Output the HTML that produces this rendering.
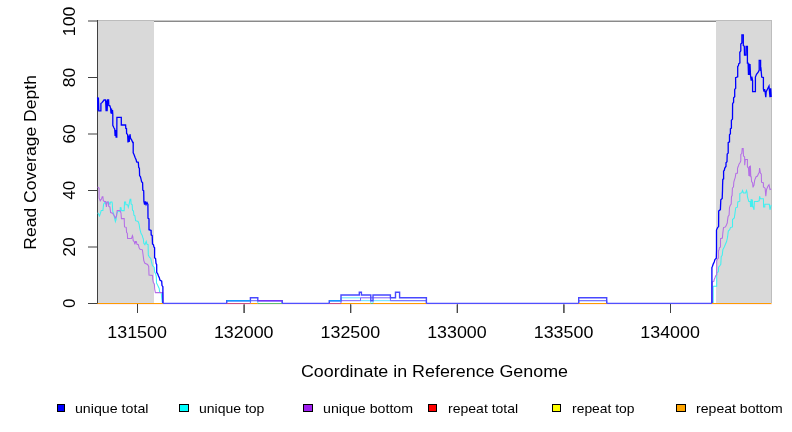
<!DOCTYPE html><html><head><meta charset="utf-8"><style>html,body{margin:0;padding:0;background:#fff;width:792px;height:432px;overflow:hidden}svg{display:block;will-change:transform}text{font-family:"Liberation Sans",sans-serif;fill:#000}</style></head><body>
<svg width="792" height="432" viewBox="0 0 792 432">
<rect x="0" y="0" width="792" height="432" fill="#fff"/>
<rect x="97" y="20" width="675" height="1" fill="#c8c8c8"/>
<rect x="97" y="21" width="675" height="1" fill="#8a8a8a"/>
<rect x="98" y="21" width="56" height="282" fill="#d9d9d9"/>
<rect x="716" y="21" width="55" height="282" fill="#d9d9d9"/>
<rect x="771" y="20" width="1" height="283" fill="#bdbdbd"/>
<rect x="98" y="20" width="56" height="1" fill="#bcbcbc"/>
<rect x="716" y="20" width="56" height="1" fill="#bcbcbc"/>
<rect x="97" y="20" width="1" height="284" fill="#404040"/>
<rect x="88" y="303.00" width="9" height="1" fill="#404040"/>
<rect x="88" y="246.50" width="9" height="1" fill="#404040"/>
<rect x="88" y="190.00" width="9" height="1" fill="#404040"/>
<rect x="88" y="133.50" width="9" height="1" fill="#404040"/>
<rect x="88" y="77.00" width="9" height="1" fill="#404040"/>
<rect x="88" y="20.50" width="9" height="1" fill="#404040"/>
<rect x="137.0" y="304" width="1" height="9" fill="#404040"/>
<rect x="243.6" y="304" width="1" height="9" fill="#404040"/>
<rect x="350.2" y="304" width="1" height="9" fill="#404040"/>
<rect x="456.8" y="304" width="1" height="9" fill="#404040"/>
<rect x="563.4" y="304" width="1" height="9" fill="#404040"/>
<rect x="670.0" y="304" width="1" height="9" fill="#404040"/>
<polyline points="97.6,213.0 98.1,213.2 99.5,216.0 100.5,213.2 101.2,210.4 102.9,210.4 103.6,204.2 105.0,202.1 106.1,204.3 107.8,201.9 108.8,202.2 109.9,204.3 110.6,201.9 112.0,201.9 112.3,203.5 112.7,211.1 113.7,213.9 114.4,217.4 115.4,221.5 116.1,219.4 116.8,213.9 117.9,211.1 120.0,211.8 120.3,207.5 121.0,207.6 121.4,210.6 124.2,210.6 124.5,201.9 125.6,201.9 125.9,204.7 127.6,204.7 128.3,207.2 129.0,204.7 130.1,199.2 130.8,199.2 131.1,204.0 132.2,204.7 132.5,210.3 133.5,211.0 133.9,215.1 134.9,215.8 135.6,220.7 138.1,221.4 139.1,224.2 139.8,229.0 140.8,232.5 141.4,234.2 142.2,235.3 142.8,237.6 143.3,238.8 143.8,243.2 144.9,244.6 146.2,241.5 146.9,244.2 148.1,244.7 148.3,255.0 149.4,257.1 150.8,258.5 151.5,261.9 152.5,265.8 154.2,267.2 154.7,272.4 155.6,273.8 156.3,276.5 156.5,282.9 157.8,285.6 159.2,288.4 159.6,291.9 161.3,292.9 161.7,298.1 162.4,303.5" fill="none" stroke="#40f0f0" stroke-width="1.05" stroke-linejoin="miter"/>
<polyline points="713.2,303.5 713.2,286.3 716.7,286.3 716.8,272.8 718.4,271.7 718.6,267.2 719.8,265.8 720.8,264.4 721.2,256.8 722.2,255.4 722.9,249.5 724.3,247.0 725.4,244.3 726.6,241.5 727.4,238.0 727.6,236.7 728.3,231.1 729.7,229.7 730.4,227.6 732.5,226.9 732.5,219.5 734.3,217.9 735.0,213.1 735.7,207.8 737.4,207.2 737.8,201.9 739.8,201.2 739.8,193.6 741.8,192.6 742.5,190.5 743.5,193.0 745.6,193.0 746.5,190.4 747.0,192.2 747.5,197.0 748.8,201.4 750.2,201.4 750.6,207.0 751.2,199.0 751.8,207.0 752.4,199.5 752.8,207.0 753.3,207.0 754.0,209.8 754.4,201.4 757.5,201.4 759.2,200.8 759.6,196.2 760.3,198.7 763.4,198.7 763.6,207.0 764.8,207.0 764.8,204.2 769.3,204.2 770.0,209.8 771.2,204.9" fill="none" stroke="#40f0f0" stroke-width="1.05" stroke-linejoin="miter"/>
<polyline points="97.6,187.0 98.1,187.3 99.1,188.3 99.1,198.0 100.2,200.8 101.6,198.8 102.2,196.7 102.9,196.7 103.3,200.8 104.3,201.5 105.7,201.5 106.4,206.9 107.1,202.0 108.2,202.0 108.8,206.4 109.9,206.9 110.6,212.5 112.7,213.2 113.4,214.6 114.4,216.0 115.4,218.0 116.5,216.0 117.2,210.4 120.0,210.4 121.0,213.0 121.4,218.6 124.2,218.6 124.5,226.9 126.2,227.3 126.6,232.5 127.3,233.2 127.6,238.4 131.5,238.4 132.4,235.6 132.8,236.7 133.2,240.8 134.2,241.5 134.9,244.3 135.5,241.5 136.3,241.5 137.0,244.3 138.4,244.7 139.1,247.8 140.1,249.2 142.4,249.8 143.1,255.0 143.8,260.6 144.9,263.3 147.6,264.4 148.7,266.5 149.0,275.1 152.5,275.5 152.8,280.0 153.3,282.2 154.4,284.2 154.7,289.1 155.4,292.6 162.7,292.6 163.2,303.5" fill="none" stroke="#b46ee6" stroke-width="1.05" stroke-linejoin="miter"/>
<polyline points="712.2,303.5 712.2,282.1 713.9,281.1 714.2,279.4 714.9,278.0 715.6,275.9 716.7,274.5 716.7,260.9 717.4,259.2 718.4,258.1 718.4,250.8 719.1,249.8 719.4,247.7 720.5,247.0 720.5,238.7 722.4,238.0 722.8,233.2 723.5,227.6 725.5,226.9 726.2,225.6 727.3,222.8 727.4,221.4 728.1,216.5 729.1,215.1 729.5,207.5 730.2,205.4 731.2,204.0 731.5,196.4 732.1,195.7 732.4,188.1 733.5,186.7 733.8,182.2 734.5,179.7 735.2,177.6 735.9,173.5 737.5,173.0 737.5,168.4 738.3,166.3 739.0,164.2 740.1,162.5 740.8,160.8 740.8,154.5 741.8,153.5 742.2,148.6 743.2,148.6 743.5,155.9 744.6,156.9 744.7,165.3 745.3,159.4 747.4,159.4 747.4,166.9 748.5,168.3 748.9,176.0 749.4,166.0 749.9,176.5 750.4,165.5 750.8,176.7 751.2,176.7 751.6,181.5 752.6,182.9 753.0,187.4 754.0,185.0 754.7,180.1 756.1,176.7 757.5,176.0 758.5,173.5 759.2,172.5 759.6,168.0 760.4,173.2 761.3,173.9 761.5,182.2 763.4,182.9 763.4,186.9 765.1,188.2 765.8,196.2 766.5,189.6 767.9,186.2 769.0,184.8 770.0,189.6 771.2,189.0" fill="none" stroke="#b46ee6" stroke-width="1.05" stroke-linejoin="miter"/>
<polyline points="163.0,303.5 226.7,303.5 226.7,300.7 257.8,300.7 257.8,303.5 329.3,303.5 329.3,300.7 341.0,300.7 341.0,297.8 360.5,297.8 360.5,300.7 370.8,300.7 370.8,303.5 373.0,303.5 373.0,300.7 426.4,300.7 426.4,303.5 578.7,303.5 578.7,300.7 606.7,300.7 606.7,303.5 713.2,303.5" fill="none" stroke="#60e0ff" stroke-width="1.0" stroke-linejoin="miter"/>
<polyline points="163.0,303.5 250.4,303.5 250.4,300.7 282.2,300.7 282.2,303.5 341.0,303.5 341.0,300.7 360.5,300.7 360.5,297.8 390.4,297.8 390.4,300.7 426.4,300.7 426.4,303.5 578.7,303.5 578.7,300.7 606.7,300.7 606.7,303.5 712.2,303.5" fill="none" stroke="#7a5cff" stroke-width="1.0" stroke-linejoin="miter"/>
<polyline points="97.6,97.2 97.9,110.5 98.4,97.5 98.8,110.8 100.9,110.8 100.9,103.5 102.2,102.4 103.3,101.0 104.0,100.0 105.6,100.0 106.1,111.2 106.6,100.5 107.1,111.2 107.6,100.0 108.6,100.0 108.8,105.5 109.9,105.8 110.6,108.0 111.0,113.5 111.5,108.5 112.0,114.0 112.5,110.0 112.8,114.2 112.8,125.3 114.0,128.0 114.7,129.0 115.1,136.0 115.6,130.0 116.1,137.0 116.8,137.0 116.9,117.3 121.3,117.3 121.3,125.0 125.6,125.0 125.8,128.4 126.5,128.5 126.6,133.5 127.6,134.5 128.0,142.5 128.6,135.5 129.2,142.0 130.0,134.2 130.6,138.5 131.5,139.7 132.8,142.5 133.2,142.5 133.2,152.9 133.9,154.3 134.2,155.0 135.2,157.8 136.2,159.9 136.6,161.9 138.3,162.3 138.7,167.5 139.4,168.2 139.6,175.8 140.4,176.5 141.1,179.3 141.6,181.7 142.6,182.8 142.8,190.1 143.7,190.8 143.9,201.5 144.6,204.5 145.3,201.5 146.1,204.5 147.0,202.5 147.9,204.3 148.0,218.2 149.0,218.9 149.0,229.7 151.1,230.5 151.2,234.9 152.2,235.6 152.5,243.9 153.5,244.9 153.9,247.0 154.6,247.7 154.6,257.8 155.6,258.5 156.0,263.3 156.7,264.7 156.7,272.4 157.7,273.8 158.4,275.8 159.4,277.9 159.9,280.1 161.7,281.1 162.0,285.6 162.9,286.7 162.9,303.5" fill="none" stroke="#0000ff" stroke-width="1.3" stroke-linejoin="miter"/>
<polyline points="711.9,303.5 711.9,267.6 712.5,266.2 713.2,264.1 714.2,262.0 714.9,259.5 716.3,258.1 716.5,250.0 716.5,230.1 717.6,227.6 718.6,226.6 718.7,211.0 720.4,209.6 720.8,199.9 722.2,198.5 722.5,190.5 722.6,185.0 722.8,179.4 723.6,178.8 723.6,171.1 724.3,170.4 724.7,168.3 726.0,166.2 726.0,162.8 727.0,161.7 727.2,154.1 728.2,153.1 728.2,142.6 729.5,141.9 729.5,134.7 730.4,133.7 730.4,128.8 731.4,128.1 731.4,120.2 732.5,119.1 732.6,103.6 733.6,102.2 733.6,97.7 734.7,96.7 734.7,89.4 735.7,88.3 735.6,77.6 737.7,76.9 737.7,66.5 738.4,65.8 738.8,63.7 739.9,63.0 739.8,52.3 740.8,50.9 740.8,44.0 741.9,42.9 741.9,34.9 743.3,34.9 743.3,45.4 744.3,46.4 744.5,55.1 745.9,55.1 746.1,46.4 747.4,46.4 747.4,63.2 748.1,63.2 748.5,75.0 749.0,63.5 749.5,75.0 750.0,64.0 750.5,75.0 750.6,76.4 751.2,80.6 751.8,76.5 752.6,80.6 752.6,91.7 755.4,91.7 755.4,77.1 756.5,74.3 758.2,72.2 759.2,70.1 759.2,60.4 760.6,60.4 760.6,69.4 761.0,68.8 761.7,77.1 763.4,77.5 763.4,88.9 764.0,91.7 764.6,89.0 765.1,91.7 765.8,97.2 766.2,91.7 767.9,88.2 769.0,86.1 770.0,97.2 770.7,88.2 771.2,97.0" fill="none" stroke="#0000ff" stroke-width="1.3" stroke-linejoin="miter"/>
<polyline points="162.9,303.5 226.7,303.5 226.7,300.7 250.4,300.7 250.4,297.8 257.8,297.8 257.8,300.7 282.2,300.7 282.2,303.5 329.3,303.5 329.3,300.7 341.0,300.7 341.0,295.0 359.3,295.0 359.3,292.2 361.4,292.2 361.4,295.0 370.8,295.0 370.8,300.7 373.0,300.7 373.0,295.0 390.4,295.0 390.4,297.8 395.5,297.8 395.5,292.2 399.6,292.2 399.6,297.8 426.4,297.8 426.4,303.5 578.7,303.5 578.7,297.8 606.7,297.8 606.7,303.5 711.9,303.5" fill="none" stroke="#4848ff" stroke-width="1.4" stroke-linejoin="miter"/>
<line x1="226.7" y1="300.67" x2="250.4" y2="300.67" stroke="#00b4ff" stroke-opacity="0.75" stroke-width="1.4"/>
<line x1="329.3" y1="300.67" x2="341" y2="300.67" stroke="#00b4ff" stroke-opacity="0.75" stroke-width="1.4"/>
<line x1="257.8" y1="300.67" x2="282.2" y2="300.67" stroke="#a020f0" stroke-opacity="0.5" stroke-width="1.4"/>
<rect x="98" y="302" width="56" height="1" fill="#d5d9e5"/>
<rect x="716" y="302" width="55" height="1" fill="#d5d9e5"/>
<rect x="97" y="304" width="675" height="1" fill="#fbeef4"/>
<rect x="97.5" y="303" width="65.4" height="1" fill="#ff9c00"/>
<rect x="162.9" y="303" width="63.8" height="1" fill="#5050ff"/>
<rect x="226.7" y="303" width="23.7" height="1" fill="#d04f7f"/>
<rect x="250.4" y="303" width="7.4" height="1" fill="#ff9c00"/>
<rect x="257.8" y="303" width="24.4" height="1" fill="#60c070"/>
<rect x="282.2" y="303" width="47.1" height="1" fill="#5050ff"/>
<rect x="329.3" y="303" width="11.7" height="1" fill="#d04f7f"/>
<rect x="341" y="303" width="29.8" height="1" fill="#ff9c00"/>
<rect x="370.8" y="303" width="2.2" height="1" fill="#60c070"/>
<rect x="373" y="303" width="53.4" height="1" fill="#ff9c00"/>
<rect x="426.4" y="303" width="152.3" height="1" fill="#5050ff"/>
<rect x="578.7" y="303" width="28.0" height="1" fill="#ff9c00"/>
<rect x="606.7" y="303" width="105.2" height="1" fill="#5050ff"/>
<rect x="711.9" y="303" width="59.6" height="1" fill="#ff9c00"/>
<rect x="137.0" y="304" width="1" height="9" fill="#404040"/>
<rect x="243.6" y="304" width="1" height="9" fill="#404040"/>
<rect x="350.2" y="304" width="1" height="9" fill="#404040"/>
<rect x="456.8" y="304" width="1" height="9" fill="#404040"/>
<rect x="563.4" y="304" width="1" height="9" fill="#404040"/>
<rect x="670.0" y="304" width="1" height="9" fill="#404040"/>
<text x="107.35" y="337.60" font-size="16.5" textLength="59.56" lengthAdjust="spacingAndGlyphs">131500</text>
<text x="213.95" y="337.60" font-size="16.5" textLength="59.56" lengthAdjust="spacingAndGlyphs">132000</text>
<text x="320.55" y="337.60" font-size="16.5" textLength="59.56" lengthAdjust="spacingAndGlyphs">132500</text>
<text x="427.15" y="337.60" font-size="16.5" textLength="59.56" lengthAdjust="spacingAndGlyphs">133000</text>
<text x="533.75" y="337.60" font-size="16.5" textLength="59.56" lengthAdjust="spacingAndGlyphs">133500</text>
<text x="640.35" y="337.60" font-size="16.5" textLength="59.56" lengthAdjust="spacingAndGlyphs">134000</text>
<text transform="translate(74.90,308.11) rotate(-90)" x="0" y="0" font-size="16.5" textLength="9.42" lengthAdjust="spacingAndGlyphs">0</text>
<text transform="translate(74.90,256.85) rotate(-90)" x="0" y="0" font-size="16.5" textLength="19.55" lengthAdjust="spacingAndGlyphs">20</text>
<text transform="translate(74.90,199.81) rotate(-90)" x="0" y="0" font-size="16.5" textLength="18.99" lengthAdjust="spacingAndGlyphs">40</text>
<text transform="translate(74.90,143.85) rotate(-90)" x="0" y="0" font-size="16.5" textLength="19.55" lengthAdjust="spacingAndGlyphs">60</text>
<text transform="translate(74.90,87.35) rotate(-90)" x="0" y="0" font-size="16.5" textLength="19.55" lengthAdjust="spacingAndGlyphs">80</text>
<text transform="translate(74.90,36.14) rotate(-90)" x="0" y="0" font-size="16.5" textLength="29.51" lengthAdjust="spacingAndGlyphs">100</text>
<text x="300.94" y="376.50" font-size="15.6" textLength="267.05" lengthAdjust="spacingAndGlyphs">Coordinate in Reference Genome</text>
<text transform="translate(36.00,249.71) rotate(-90)" x="0" y="0" font-size="15.6" textLength="174.64" lengthAdjust="spacingAndGlyphs">Read Coverage Depth</text>
<rect x="57.5" y="404.5" width="7" height="7" fill="#0000ff" stroke="#000" stroke-width="1"/>
<text x="74.98" y="412.70" font-size="13" textLength="73.50" lengthAdjust="spacingAndGlyphs">unique total</text>
<rect x="179.5" y="404.5" width="9" height="7" fill="#00ffff" stroke="#000" stroke-width="1"/>
<text x="198.99" y="412.70" font-size="13" textLength="65.43" lengthAdjust="spacingAndGlyphs">unique top</text>
<rect x="303.5" y="404.5" width="9" height="7" fill="#a020f0" stroke="#000" stroke-width="1"/>
<text x="323.08" y="412.70" font-size="13" textLength="90.01" lengthAdjust="spacingAndGlyphs">unique bottom</text>
<rect x="428.5" y="404.5" width="8" height="7" fill="#ff0000" stroke="#000" stroke-width="1"/>
<text x="448.09" y="412.70" font-size="13" textLength="70.07" lengthAdjust="spacingAndGlyphs">repeat total</text>
<rect x="552.5" y="404.5" width="8" height="7" fill="#ffff00" stroke="#000" stroke-width="1"/>
<text x="572.10" y="412.70" font-size="13" textLength="62.38" lengthAdjust="spacingAndGlyphs">repeat top</text>
<rect x="676.5" y="404.5" width="9" height="7" fill="#ffa500" stroke="#000" stroke-width="1"/>
<text x="696.09" y="412.70" font-size="13" textLength="86.69" lengthAdjust="spacingAndGlyphs">repeat bottom</text>
</svg></body></html>
